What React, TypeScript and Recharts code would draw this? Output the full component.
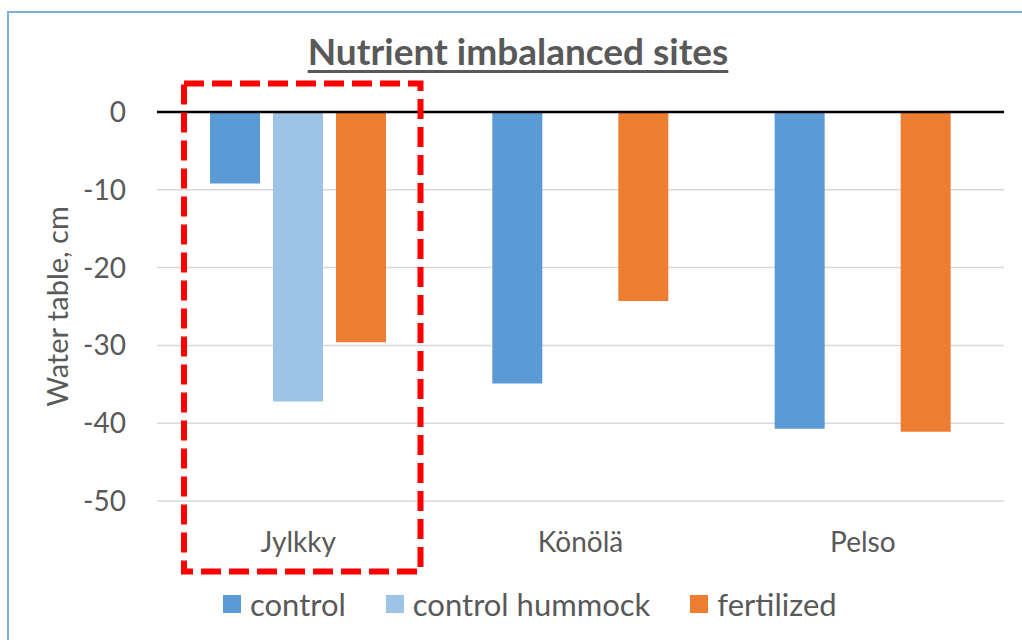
import React from 'react';
import { BarChart, Bar, XAxis, YAxis, CartesianGrid, ReferenceLine, Legend, Label } from 'recharts';

const categories = ['Jylkky', 'Könölä', 'Pelso'];
const controlValues = [-9.2, -34.9, -40.7];
const hummockValues: (number | null)[] = [-37.2, null, null];
const fertilizedValues = [-29.6, -24.3, -41.1];
const yTicks = [-50, -40, -30, -20, -10, 0];
const seriesKeys = ['control', 'hummock', 'fertilized'];
const seriesNames = ['control', 'control hummock', 'fertilized'];
const seriesColors = ['#5B9BD5', '#9DC3E6', '#ED7D31'];

const data = categories.map((site, i) => ({
  site,
  control: controlValues[i],
  hummock: hummockValues[i],
  fertilized: fertilizedValues[i],
}));

const FONT = 'Lato, "Open Sans", sans-serif';
const TEXT = '#595959';

const renderYLabel = (props: any) => {
  const vb = props.viewBox || { x: 0, y: 112, width: 157, height: 389 };
  const x = vb.x + 68;
  const y = vb.y + vb.height / 2;
  return (
    <text x={x} y={y} transform={`rotate(-90 ${x} ${y})`} textAnchor="middle" fill={TEXT} fontSize={29} fontFamily={FONT}>
      Water table, cm
    </text>
  );
};

const renderLegend = (props: any) => {
  const payload = props.payload || [];
  return (
    <div style={{ display: 'flex', alignItems: 'center', marginLeft: 223, gap: 40, fontFamily: FONT }}>
      {payload.map((p: any) => (
        <div key={p.value} style={{ display: 'flex', alignItems: 'center' }}>
          <span style={{ display: 'inline-block', width: 18, height: 18, background: p.color, marginRight: 9 }} />
          <span style={{ fontSize: 31, color: TEXT, lineHeight: '34px' }}>{p.value}</span>
        </div>
      ))}
    </div>
  );
};

export default function App() {
  return (
    <div style={{ position: 'absolute', left: 0, top: 0, width: 1022, height: 640, background: '#fff', overflow: 'hidden' }}>
      <div style={{ position: 'absolute', left: 7, top: 11, width: 1030, height: 640, borderLeft: '2px solid #7EB0DE', borderTop: '2px solid #7EB0DE' }} />
      <div
        style={{
          position: 'absolute', left: 0, top: 29, width: 1036, textAlign: 'center', fontFamily: FONT, fontWeight: 700,
          fontSize: 37, lineHeight: '44px', color: TEXT, textDecoration: 'underline', textDecorationThickness: '3px', textUnderlineOffset: '5px',
        }}
      >
        Nutrient imbalanced sites
      </div>
      <BarChart width={1022} height={640} data={data} margin={{ top: 112, right: 18, bottom: 79, left: 0 }} barSize={50} barGap={13}>
        <CartesianGrid vertical={false} stroke="#D9D9D9" strokeWidth={1.5} />
        <XAxis
          dataKey="site"
          axisLine={false}
          tickLine={false}
          tickSize={0}
          tickMargin={31}
          height={60}
          interval={0}
          tick={{ fill: TEXT, fontSize: 28, fontFamily: FONT }}
        />
        <YAxis
          type="number"
          domain={[-50, 0]}
          ticks={yTicks}
          width={157}
          axisLine={false}
          tickLine={false}
          tickSize={0}
          tickMargin={31}
          tick={{ fill: TEXT, fontSize: 28, fontFamily: FONT }}
        >
          <Label content={renderYLabel} />
        </YAxis>
        {seriesKeys.map((k, i) => (
          <Bar key={k} dataKey={k} name={seriesNames[i]} fill={seriesColors[i]} isAnimationActive={false} />
        ))}
        <ReferenceLine y={0} stroke="#000" strokeWidth={2.5} />
        <Legend verticalAlign="middle" content={renderLegend} wrapperStyle={{ top: 587, left: 0, width: 1022 }} />
      </BarChart>
      <svg width={1022} height={640} style={{ position: 'absolute', left: 0, top: 0, pointerEvents: 'none' }}>
        <rect x={184} y={83.5} width={236.5} height={488} fill="none" stroke="#FF0000" strokeWidth={6} strokeDasharray="20 8" />
      </svg>
    </div>
  );
}
